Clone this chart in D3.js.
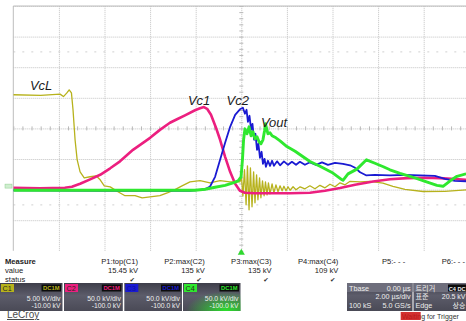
<!DOCTYPE html>
<html>
<head>
<meta charset="utf-8">
<script src="https://cdn.jsdelivr.net/npm/d3@7"></script>
<style>
  body { margin: 0; background: #fff; }
  svg { display: block; font-family: "Liberation Sans", Arial, sans-serif; }
  .grid line { stroke: #c2c2c2; stroke-dasharray: 1,1; }
  .grid path, .minor path { display: none; }
  .minor line { stroke: #b8b8b8; }
</style>
</head>
<body>
<svg id="scope" width="466" height="321"></svg>
<script>
// samples: [time (µs), value (kV)]
const vcL = [
  [-10, 15.5], [-8.8, 15.4], [-7.95, 15.6], [-7.8, 15.2], [-7.65, 15.8], [-7.55, 16.3], [-7.45, 15.8],
  [-7.38, 13.0], [-7.29, 8.1], [-7.2, 4.9], [-7.07, 2.9], [-6.89, 1.9], [-6.63, 2.1], [-6.37, 2.25],
  [-6.19, 1.6], [-6.01, 0.6], [-5.75, 0.45], [-5.41, -0.35], [-5.1, -1.0], [-4.66, -1.0], [-4.35, -1.35],
  [-4.0, -1.2], [-3.57, -1.0], [-3.22, -0.5], [-2.91, 0.0], [-2.6, 0.6], [-2.25, 1.25], [-1.81, 1.45],
  [-1.37, 1.1], [-0.93, 1.45], [-0.5, 1.25], [-0.19, 1.25],
  [-0.06, 1.27], [0.01, 1.93], [0.07, -1.01], [0.14, 3.24], [0.21, -2.48], [0.27, 3.89], [0.34, -3.3],
  [0.40, 3.56], [0.47, -2.81], [0.54, 2.91], [0.60, -2.16], [0.67, 2.42], [0.73, -1.67], [0.80, 1.93],
  [0.86, -1.34], [0.93, 1.44], [1.0, -1.01], [1.06, 1.27], [1.13, -0.85], [1.19, 1.11], [1.26, -0.69],
  [1.35, 0.95], [1.43, -0.52], [1.52, 0.78], [1.61, -0.36], [1.70, 0.62], [1.79, -0.2], [1.87, 0.54],
  [1.96, -0.2], [2.05, 0.46], [2.14, -0.11], [2.27, 0.46], [2.40, -0.03], [2.58, 0.46], [2.79, 0.13],
  [3.01, 0.62], [3.23, 0.13], [3.45, 0.70], [3.67, 0.29], [3.89, 0.87], [4.11, 0.46], [4.33, 1.11],
  [4.55, 0.78], [4.77, 1.36], [5.21, 1.27], [5.64, 1.36], [6.21, 1.06], [6.65, 0.51], [7.18, 0.05],
  [7.97, -0.31], [8.93, -0.28], [9.86, -0.03]
];
const vc1 = [
  [-10, 2.9], [-8.83, 2.1], [-7.74, 2.9], [-7.43, 4.6], [-7.07, 9.5], [-6.63, 16.8], [-6.19, 24.2],
  [-5.75, 34.8], [-5.32, 46.2], [-4.75, 65.0], [-4.0, 84.6], [-3.57, 97.6], [-3.13, 109.2], [-2.82, 114.9],
  [-2.47, 121.4], [-2.03, 129.6], [-1.81, 132.8], [-1.64, 134.8], [-1.5, 132.0], [-1.33, 122.2],
  [-1.11, 101.0], [-0.93, 81.4], [-0.71, 53.6], [-0.49, 29.1], [-0.27, 9.5], [-0.06, -2.0], [0.16, -5.2],
  [0.6, -6.0], [1.26, -6.0], [2.14, -6.0], [3.01, -5.2], [3.67, -2.0], [4.33, 2.5], [4.99, 7.8],
  [5.78, 13.2], [6.52, 16.8], [7.27, 18.8], [8.05, 19.3], [8.71, 18.8], [9.86, 16.0]
];
const vc2 = [
  [-10, -1.1], [-6.19, -2.0], [-4.0, -2.0], [-2.25, -2.0], [-1.59, 0.5], [-1.37, 5.1], [-1.15, 20.9],
  [-0.93, 48.7], [-0.71, 76.5], [-0.49, 102.6], [-0.27, 122.2], [-0.06, 131.2], [0.07, 133.7],
  [0.16, 123.9], [0.23, 130.4], [0.29, 110.8], [0.36, 120.6], [0.43, 97.7], [0.49, 107.5], [0.56, 81.4],
  [0.62, 91.2], [0.69, 65.0], [0.75, 74.9], [0.82, 52.0], [0.89, 61.8], [0.95, 42.2], [1.02, 50.3],
  [1.08, 37.3], [1.17, 47.1], [1.26, 38.9], [1.35, 47.1], [1.43, 38.9], [1.57, 46.2], [1.70, 39.7],
  [1.87, 46.2], [2.05, 40.5], [2.22, 45.4], [2.40, 40.5], [2.57, 45.4], [2.79, 40.5], [3.01, 44.6],
  [3.28, 40.5], [3.54, 44.6], [3.80, 40.5], [4.11, 43.8], [4.46, 42.2], [4.77, 39.7], [4.99, 35.6],
  [5.21, 28.3], [5.47, 23.4], [5.86, 24.2], [6.52, 23.4], [7.18, 24.2], [7.84, 23.4], [8.49, 22.5],
  [8.93, 17.6], [9.37, 14.4], [9.86, 13.6]
];
const vout = [
  [-10, -1.1], [-6.19, -1.1], [-4.0, -1.1], [-2.03, -1.1], [-1.59, 0.5], [-1.15, 3.8], [-0.71, 7.0],
  [-0.36, 11.1], [-0.14, 14.4], [-0.01, 20.9], [0.05, 48.7], [0.1, 81.4], [0.16, 99.3], [0.25, 91.2],
  [0.34, 102.6], [0.43, 87.9], [0.51, 94.4], [0.60, 83.0], [0.69, 86.3], [0.78, 78.1], [0.86, 74.8],
  [0.95, 81.4], [1.02, 96.1], [1.06, 107.5], [1.17, 91.2], [1.26, 92.8], [1.35, 87.9], [1.52, 84.6],
  [1.70, 79.7], [2.0, 70.4], [2.36, 62.6], [3.01, 45.9], [3.45, 38.1], [4.02, 27.0], [4.42, 16.0],
  [4.46, 15.2], [4.68, 25.7], [5.07, 33.5], [5.49, 48.7], [5.86, 43.0], [6.23, 37.3], [6.52, 32.4],
  [6.96, 26.6], [7.62, 19.3], [8.06, 13.6], [8.58, 7.0], [8.85, 5.4], [9.16, 14.4], [9.46, 21.7],
  [9.86, 25.8]
];

const traces = [vcL, vc1, vc2, vout];
const traceNames = ['VcL', 'Vc1', 'Vc2', 'Vout'];
const labelAt = [[-9.27, 16.3], [-2.34, 138.6], [-0.65, 138.6], [0.86, 102.6]];
const voltsPerDiv = [5, 50, 50, 50];        // kV/div
const offsets = [-10, -100, -100, -100];    // kV
const chanLabels = ['C1', 'C2', 'C3', 'C4'];
const chanScaleText = ['5.00 kV/div', '50.0 kV/div', '50.0 kV/div', '50.0 kV/div'];
const chanOffsetText = ['-10.00 kV', '-100.0 kV', '-100.0 kV', '-100.0 kV'];
const measureNames = ['P1:top(C1)', 'P2:max(C2)', 'P3:max(C3)', 'P4:max(C4)', 'P5:- - -', 'P6:- - -'];
const measureValues = ['15.45 kV', '135 kV', '135 kV', '109 kV', '', ''];
const measureOk = [true, true, true, true, false, false];
const timebaseRows = [['Tbase', '0.00 µs'], ['', '2.00 µs/div'], ['100 kS', '5.0 GS/s']];
const triggerRows = [['트리거', 'C4 DC'], ['표준', '20.5 kV'], ['Edge', '상승']];

const colors = ['#b7b21c', '#ec1f7f', '#1a1ad2', '#2fe82f'];
const widths = [1.3, 2.6, 1.8, 2.9];

const svg = d3.select('#scope');
const plot = { left: 13.3, top: 6, divX: 45.6, divY: 30.6 };
const bottom = plot.top + 8 * plot.divY;

const x = d3.scaleLinear().domain([-10, 10]).range([plot.left, plot.left + 10 * plot.divX]);
const yDiv = d3.scaleLinear().domain([-4, 4]).range([bottom, plot.top]);
const yChan = voltsPerDiv.map((v, i) =>
  d3.scaleLinear().domain([-4 * v - offsets[i], 4 * v - offsets[i]]).range([bottom, plot.top]));

// grid
svg.append('g').attr('class', 'grid')
  .attr('transform', `translate(0,${bottom})`)
  .call(d3.axisBottom(x).tickValues(d3.range(-8, 10.1, 2)).tickSize(-(bottom - plot.top)).tickFormat(''));
svg.append('g').attr('class', 'grid')
  .attr('transform', `translate(${plot.left},0)`)
  .call(d3.axisLeft(yDiv).tickValues(d3.range(-3, 4.1, 1)).tickSize(-(466 - plot.left)).tickFormat(''));

// faint half-division dots
[-2.5, 2.5].forEach(d => {
  svg.append('line')
    .attr('x1', plot.left).attr('x2', 466).attr('y1', yDiv(d)).attr('y2', yDiv(d))
    .attr('stroke', '#d0d0d0').attr('stroke-dasharray', '2,7');
});

// minor ticks on the centre axes
svg.append('g').attr('class', 'minor')
  .attr('transform', `translate(0,${yDiv(0) - 2})`)
  .call(d3.axisBottom(x).tickValues(d3.range(-10, 10.01, 0.4)).tickSize(4).tickFormat(''));
svg.append('g').attr('class', 'minor')
  .attr('transform', `translate(${x(0) + 2},0)`)
  .call(d3.axisLeft(yDiv).tickValues(d3.range(-4, 4.01, 0.2)).tickSize(4).tickFormat(''));

// border
svg.append('path')
  .attr('d', `M${plot.left},${bottom}V${plot.top}H466`)
  .attr('fill', 'none').attr('stroke', '#bdbdbd').attr('stroke-width', 1);

svg.append('clipPath').attr('id', 'clip')
  .append('rect').attr('x', plot.left).attr('y', plot.top).attr('width', 466 - plot.left).attr('height', bottom - plot.top);

const g = svg.append('g').attr('clip-path', 'url(#clip)');
traces.forEach((data, i) => {
  const line = d3.line().x(d => x(d[0])).y(d => yChan[i](d[1]));
  g.append('path').datum(data)
    .attr('d', line)
    .attr('fill', 'none')
    .attr('stroke', colors[i])
    .attr('stroke-width', widths[i])
    .attr('stroke-linejoin', 'round');
});

traceNames.forEach((name, i) => {
  svg.append('text')
    .attr('x', x(labelAt[i][0])).attr('y', yChan[i](labelAt[i][1]))
    .attr('font-size', 13).attr('font-style', 'italic').attr('fill', '#1c1c1c')
    .text(name);
});

// ground marker and trigger marker
svg.append('rect').attr('x', 5).attr('y', yChan[3](0) - 5.5).attr('width', 7).attr('height', 4)
  .attr('fill', '#cfeecf').attr('stroke', '#8fcf8f').attr('stroke-width', 0.5);
svg.append('path')
  .attr('d', d3.symbol(d3.symbolTriangle, 22)())
  .attr('transform', `translate(${x(0)},${bottom + 2})`)
  .attr('fill', '#2fd82f');

// measure table
const meas = svg.append('g').attr('font-size', 7.6).attr('fill', '#222');
meas.append('text').attr('x', 5).attr('y', 264).attr('font-weight', 'bold').text('Measure');
meas.append('text').attr('x', 5).attr('y', 273).text('value');
meas.append('text').attr('x', 5).attr('y', 281.5).text('status');
measureNames.forEach((name, i) => {
  const right = Math.min(138 + i * 66.8, 465);
  meas.append('text').attr('x', right).attr('y', 264).attr('text-anchor', 'end').text(name);
  meas.append('text').attr('x', right).attr('y', 273).attr('text-anchor', 'end').text(measureValues[i]);
  if (measureOk[i]) {
    meas.append('text').attr('x', right - 3).attr('y', 281.5).attr('text-anchor', 'end')
      .attr('font-family', 'DejaVu Sans').attr('font-size', 6.5).attr('fill', '#333').text('✔');
  }
});

// channel boxes
const defs = svg.append('defs');
const grad = defs.append('linearGradient').attr('id', 'boxbg').attr('x1', 0).attr('x2', 0).attr('y1', 0).attr('y2', 1);
grad.append('stop').attr('offset', 0).attr('stop-color', '#3e3e4a');
grad.append('stop').attr('offset', 0.45).attr('stop-color', '#5c5c6a');
grad.append('stop').attr('offset', 1).attr('stop-color', '#4a4a56');
const glow = defs.append('radialGradient').attr('id', 'glow').attr('cx', 0.75).attr('cy', 1).attr('r', 0.7);
glow.append('stop').attr('offset', 0).attr('stop-color', '#2be02b');
glow.append('stop').attr('offset', 1).attr('stop-color', '#2be02b').attr('stop-opacity', 0);

const boxX = [0, 64, 124.3, 183];
const boxW = [62.5, 58.8, 57.7, 57.5];
chanLabels.forEach((label, i) => {
  const b = svg.append('g').attr('transform', `translate(${boxX[i]},283)`);
  b.append('rect').attr('width', boxW[i]).attr('height', 28).attr('fill', 'url(#boxbg)');
  if (i === 3) b.append('rect').attr('width', boxW[i]).attr('height', 28).attr('fill', 'url(#glow)');
  b.append('rect').attr('x', 1).attr('y', 1).attr('width', 13).attr('height', 8).attr('fill', colors[i]);
  b.append('text').attr('x', 2.5).attr('y', 7.8).attr('font-size', 7.2)
    .attr('fill', i === 2 ? '#1010a0' : '#2a2a20').text(label);
  b.append('rect').attr('x', boxW[i] - 21).attr('y', 1.5).attr('width', 19.5).attr('height', 7).attr('fill', '#0c0c0c');
  b.append('text').attr('x', boxW[i] - 11.2).attr('y', 7.4).attr('text-anchor', 'middle')
    .attr('font-size', 5.8).attr('font-weight', 'bold').attr('fill', colors[i]).text('DC1M');
  b.append('text').attr('x', boxW[i] - 2).attr('y', 18.2).attr('text-anchor', 'end')
    .attr('font-size', 6.8).attr('fill', '#eeeeee').text(chanScaleText[i]);
  b.append('text').attr('x', boxW[i] - 2).attr('y', 25.3).attr('text-anchor', 'end')
    .attr('font-size', 6.8).attr('fill', '#eeeeee').text(chanOffsetText[i]);
});

// timebase and trigger boxes
function infoBox(x0, w, rows) {
  const b = svg.append('g').attr('transform', `translate(${x0},283)`);
  b.append('rect').attr('width', w).attr('height', 28).attr('fill', 'url(#boxbg)');
  b.append('rect').attr('width', w).attr('height', 9).attr('fill', '#6e6e7c');
  rows.forEach((r, k) => {
    b.append('text').attr('x', 2).attr('y', 7.5 + k * 8.6).attr('font-size', 7.2).attr('fill', '#eeeeee')
      .attr('font-family', '"Liberation Sans", "Noto Sans CJK KR", sans-serif').text(r[0]);
  });
  return b;
}
const tb = infoBox(347, 65.5, timebaseRows);
timebaseRows.forEach((r, k) => {
  tb.append('text').attr('x', 63.5).attr('y', 7.5 + k * 8.6).attr('text-anchor', 'end')
    .attr('font-size', 7.2).attr('fill', '#eeeeee').text(r[1]);
});
const tr = infoBox(413.5, 52.5, triggerRows);
tr.append('rect').attr('x', 34.5).attr('y', 1.5).attr('width', 18).attr('height', 7).attr('fill', '#0c0c0c');
triggerRows.forEach((r, k) => {
  tr.append('text').attr('x', 52).attr('y', 7.5 + k * 8.6).attr('text-anchor', 'end')
    .attr('font-size', k === 0 ? 5.6 : 7).attr('font-weight', k === 0 ? 'bold' : 'normal')
    .attr('font-family', '"Liberation Sans", "Noto Sans CJK KR", sans-serif')
    .attr('fill', '#eeeeee').text(r[1]);
});

// status line
svg.append('text').attr('x', 402).attr('y', 319).attr('font-size', 7).attr('fill', '#333')
  .text('Waiting for Trigger');
svg.append('rect').attr('x', 400.7).attr('y', 312).attr('width', 20).attr('height', 8)
  .attr('fill', '#cc1414').attr('opacity', 0.88);

svg.append('text').attr('x', 7).attr('y', 318).attr('font-size', 10).attr('fill', '#4a4a4a')
  .attr('text-decoration', 'underline').text('LeCroy');
</script>
</body>
</html>
